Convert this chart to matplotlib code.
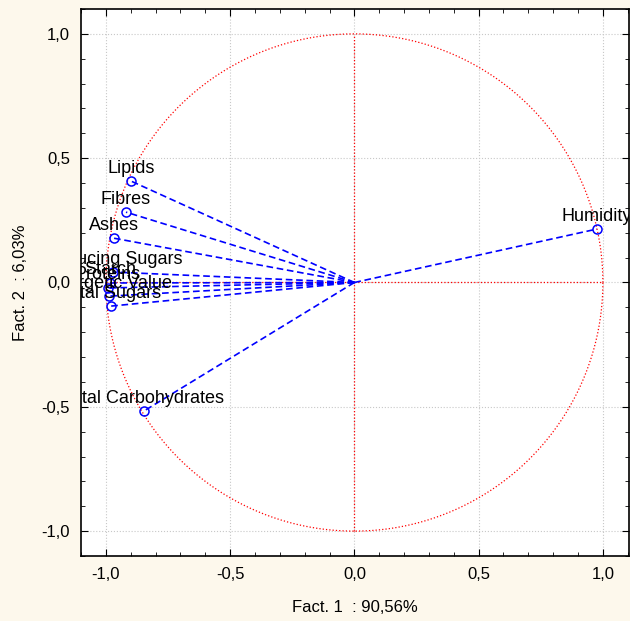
import numpy as np
import matplotlib
matplotlib.use('Agg')
import matplotlib.pyplot as plt
from matplotlib.ticker import MultipleLocator, FuncFormatter
from matplotlib.transforms import offset_copy

plt.rcParams['font.family'] = ['Liberation Sans', 'DejaVu Sans']

variables = ['Humidity', 'Lipids', 'Fibres', 'Ashes', 'Reducing Sugars', 'Starch',
             'Proteins', 'Energetic Value', 'Total Sugars', 'Total Carbohydrates']
fact1 = [0.976, -0.899, -0.919, -0.967, -0.971, -0.984, -0.992, -0.988, -0.980, -0.847]
fact2 = [0.215, 0.408, 0.283, 0.178, 0.042, -0.002, -0.022, -0.055, -0.095, -0.517]

bg = '#fdf8ec'
fig = plt.figure(figsize=(6.3, 6.21), dpi=100, facecolor=bg)
ax = fig.add_axes([0.1286, 0.1047, 0.8694, 0.8808])
ax.set_facecolor('white')

# unit circle and axes lines
t = np.linspace(0, 2 * np.pi, 400)
ax.plot(np.cos(t), np.sin(t), color='red', linestyle=':', linewidth=0.9)
ax.plot([-1, 1], [0, 0], color='red', linestyle=':', linewidth=0.9)
ax.plot([0, 0], [-1, 1], color='red', linestyle=':', linewidth=0.9)

txt_tr = offset_copy(ax.transData, fig=fig, x=0, y=13, units='dots')
for name, x, y in zip(variables, fact1, fact2):
    ax.plot([0, x], [0, y], color='blue', linestyle='--', linewidth=1.2, dashes=(4, 2.2))
    ax.plot(x, y, marker='o', markersize=6.5, markerfacecolor='none',
            markeredgecolor='blue', markeredgewidth=1.1)
    ax.text(x, y, name, transform=txt_tr, ha='center', va='center',
            fontsize=13, color='black', clip_on=True)

ax.set_xlim(-1.1, 1.104)
ax.set_ylim(-1.1, 1.1)
ax.xaxis.set_major_locator(MultipleLocator(0.5))
ax.yaxis.set_major_locator(MultipleLocator(0.5))
ax.xaxis.set_minor_locator(MultipleLocator(0.1))
ax.yaxis.set_minor_locator(MultipleLocator(0.1))
fmt = FuncFormatter(lambda v, p: ('%.1f' % v).replace('.', ','))
ax.xaxis.set_major_formatter(fmt)
ax.yaxis.set_major_formatter(fmt)
ax.tick_params(which='both', direction='in', top=True, right=True, labelsize=12)
ax.tick_params(which='major', length=5, pad=8)
ax.tick_params(which='minor', length=3)
ax.grid(True, which='major', color='#c8c8c8', linestyle=':', linewidth=0.8)
for s in ax.spines.values():
    s.set_linewidth(1.2)

ax.set_xlabel('Fact. 1  : 90,56%', fontsize=12, labelpad=13)
ax.set_ylabel('Fact. 2  : 6,03%', fontsize=12, labelpad=10)

fig.savefig('out.png', dpi=100, facecolor=bg)
